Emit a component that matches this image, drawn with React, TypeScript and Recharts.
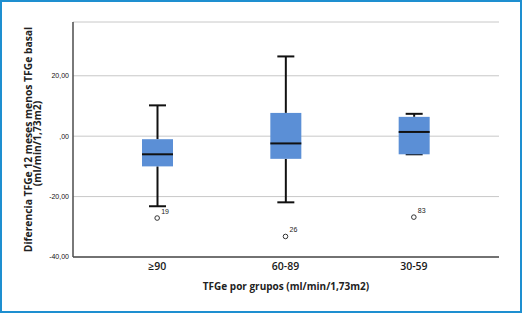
import React from 'react';
import { ComposedChart, Bar, Scatter, XAxis, YAxis, CartesianGrid, Label } from 'recharts';

const categories = ['≥90', '60-89', '30-59'];
const whiskerLow = [-23.2, -21.9, -6.0];
const q1 = [-10.0, -7.5, -6.0];
const median = [-6.0, -2.4, 1.4];
const q3 = [-1.0, 7.7, 6.4];
const whiskerHigh = [10.2, 26.4, 7.4];
const outlierValues = [-27.1, -33.2, -26.8];
const outlierIds = ['19', '26', '83'];
const yTicks = [-40, -20, 0, 20];

const data = categories.map((cat, i) => ({
  cat,
  wlo: whiskerLow[i],
  q1: q1[i],
  med: median[i],
  q3: q3[i],
  whi: whiskerHigh[i],
}));
const outliers = categories.map((cat, i) => ({ cat, v: outlierValues[i], id: outlierIds[i] }));

const fmt = (v: number) => (v === 0 ? ',00' : v.toFixed(2).replace('.', ','));

const BoxShape = (props: any) => {
  const { x, y, width, height, payload } = props;
  if (x == null || y == null) return null;
  const top = Math.min(y, y + height);
  const bot = Math.max(y, y + height);
  const { wlo, whi } = payload;
  const py = (v: number) => top + ((whi - v) / (whi - wlo)) * (bot - top);
  const cx = x + width / 2;
  const cap = 17;
  const yq1 = py(payload.q1);
  const yq3 = py(payload.q3);
  const ymed = py(payload.med);
  return (
    <g>
      <line x1={cx} x2={cx} y1={top} y2={yq3} stroke="#111" strokeWidth={2} />
      <line x1={cx} x2={cx} y1={yq1} y2={bot} stroke="#111" strokeWidth={2} />
      <line x1={cx - cap / 2} x2={cx + cap / 2} y1={top} y2={top} stroke="#111" strokeWidth={2} />
      <line x1={cx - cap / 2} x2={cx + cap / 2} y1={bot} y2={bot} stroke="#111" strokeWidth={2} />
      <rect x={x} y={yq3} width={width} height={yq1 - yq3} fill="#5b8fd6" />
      <line x1={x} x2={x + width} y1={ymed} y2={ymed} stroke="#111" strokeWidth={2} />
    </g>
  );
};

const OutlierShape = (props: any) => {
  const { cx, cy, payload } = props;
  if (cx == null || cy == null) return null;
  return (
    <g>
      <circle cx={cx} cy={cy} r={2.3} fill="#fff" stroke="#333" strokeWidth={1} />
      <text x={cx + 4} y={cy - 4} fontSize={7} fill="#222" fontFamily="'Liberation Sans', Arial, sans-serif">
        {payload.id}
      </text>
    </g>
  );
};

const YLabel = (props: any) => {
  const vb = props.viewBox || { x: 0, y: 22, width: 73, height: 235 };
  const cy = vb.y + vb.height / 2;
  const style = { fontSize: 10.3, fontWeight: 700, fill: '#222', fontFamily: "'Open Sans', sans-serif" } as any;
  return (
    <g>
      <text x={28} y={cy} transform={`rotate(-90, 28, ${cy})`} textAnchor="middle" dominantBaseline="central" style={style}>
        Diferencia TFGe 12 meses menos TFGe basal
      </text>
      <text x={37} y={cy + 4} transform={`rotate(-90, 37, ${cy + 4})`} textAnchor="middle" dominantBaseline="central" style={style}>
        (ml/min/1,73m2)
      </text>
    </g>
  );
};

export default function App() {
  const frame = { stroke: '#4d4d4d', strokeWidth: 1.5 };
  return (
    <div style={{ position: 'absolute', left: 0, top: 0, width: 522, height: 313, background: '#fff' }}>
      <ComposedChart width={522} height={313} data={data} margin={{ top: 22, right: 23, bottom: 0, left: 0 }}>
        <CartesianGrid vertical={false} stroke="#c8c8c8" strokeWidth={1} />
        <XAxis
          dataKey="cat"
          allowDuplicatedCategory={false}
          height={56}
          padding={{ left: 20, right: 21 }}
          tickSize={0}
          tickMargin={6}
          stroke="#4d4d4d"
          axisLine={frame}
          tick={{ fontSize: 10.5, fontWeight: 600, fill: '#1a1a1a', fontFamily: "'Open Sans', sans-serif" }}
        >
          <Label
            value="TFGe por grupos (ml/min/1,73m2)"
            position="insideBottom"
            offset={23}
            style={{ fontSize: 10, fontWeight: 700, fill: '#222', fontFamily: "'Open Sans', sans-serif" }}
          />
        </XAxis>
        <XAxis xAxisId="top" orientation="top" dataKey="cat" allowDuplicatedCategory={false} height={0} tick={false} tickLine={false} axisLine={frame} />
        <YAxis
          width={73}
          domain={[-40, 37.8]}
          ticks={yTicks}
          tickFormatter={fmt}
          tickSize={0}
          tickMargin={4}
          stroke="#4d4d4d"
          axisLine={frame}
          allowDataOverflow
          tick={{ fontSize: 7, fill: '#111', fontFamily: "'Liberation Sans', Arial, sans-serif" }}
          label={<YLabel />}
        />
        <YAxis yAxisId="r" orientation="right" width={0} domain={[-40, 37.8]} tick={false} tickLine={false} axisLine={frame} />
        <Bar dataKey={(d: any) => [d.wlo, d.whi]} barSize={31} shape={<BoxShape />} isAnimationActive={false} />
        <Scatter data={outliers} dataKey="v" shape={<OutlierShape />} isAnimationActive={false} />
      </ComposedChart>
      <div
        style={{
          position: 'absolute',
          left: 0,
          top: 0,
          width: 522,
          height: 313,
          boxSizing: 'border-box',
          border: '2px solid #1e8fd0',
          pointerEvents: 'none',
        }}
      />
    </div>
  );
}
